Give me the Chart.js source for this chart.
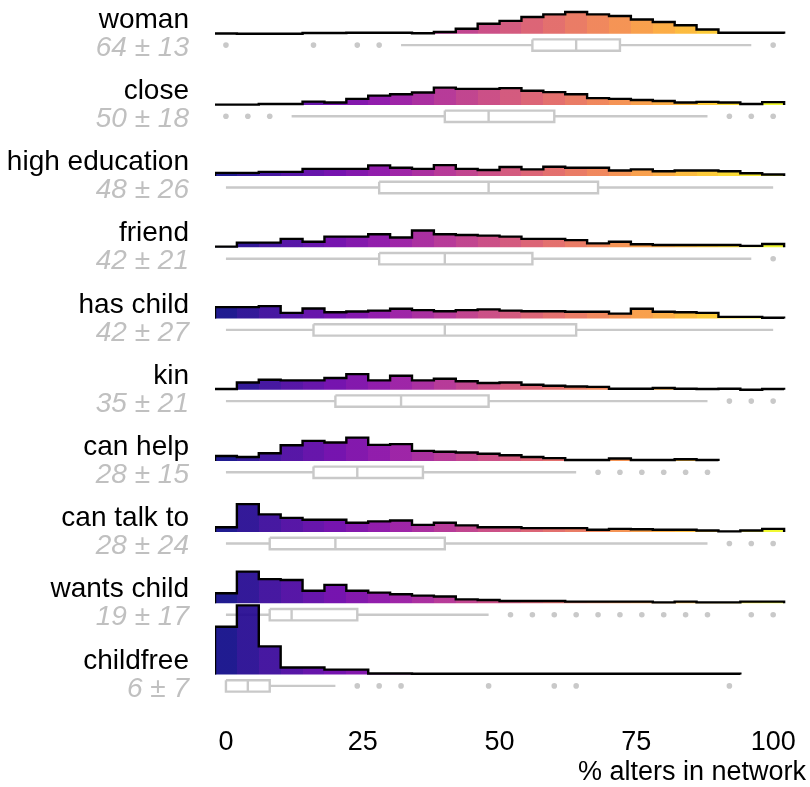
<!DOCTYPE html>
<html><head><meta charset="utf-8">
<script src="https://cdn.jsdelivr.net/npm/chart.js@4.4.1/dist/chart.umd.min.js"></script>
<style>html,body{margin:0;padding:0;background:#fff;}#wrap{width:810px;height:787px;}</style>
</head><body><div id="wrap"><canvas id="c" width="810" height="787"></canvas></div>
<script>
// ---------- DATA ----------
const categories = ["woman","close","high education","friend","has child","kin","can help","can talk to","wants child","childfree"];
const statLabels = ["64 ± 13","50 ± 18","48 ± 26","42 ± 21","42 ± 27","35 ± 21","28 ± 15","28 ± 24","19 ± 17","6 ± 7"];
const binCenters = [0,4,8,12,16,20,24,28,32,36,40,44,48,52,56,60,64,68,72,76,80,84,88,92,96,100];
const xTicks = [0,25,50,75,100];

// share of respondents (%) in each 4-point bin, starting at bin 0
const histWoman      = [0.1,0,0,0,0.3,0.3,0.4,0.4,0.4,0.2,0.7,2.1,4.3,5.5,7.2,8.3,9.3,8.3,7.6,6.1,5.0,3.6,1.8,0.4,0.4,0.4];
const histClose      = [0.1,0.1,0.4,0.4,1.4,1.0,2.6,4.0,4.6,5.3,7.4,6.9,6.9,7.2,6.1,5.5,4.6,2.9,2.6,2.1,1.7,1.0,1.3,1.0,0.4,1.2];
const histHighEdu    = [1.4,1.4,1.8,1.8,3.1,3.1,3.1,4.6,3.6,3.1,4.7,3.1,2.6,3.9,2.9,4.0,3.6,3.6,2.4,2.9,2.1,2.4,2.4,2.1,1.2,0.7];
const histFriend     = [0.3,2.0,2.0,3.6,2.4,4.6,4.6,5.6,4.2,7.2,5.6,5.3,5.0,4.6,3.6,3.6,3.1,1.7,2.4,1.3,1.0,1.0,1.0,1.0,0.6,1.4];
const histHasChild   = [4.9,4.9,5.3,2.4,4.3,2.7,3.0,3.4,4.2,3.6,3.1,3.6,3.9,3.4,3.1,3.1,2.9,2.9,2.1,4.2,2.9,2.7,2.4,0.7,0.7,0.3];
const histKin        = [0.3,3.1,4.3,4.0,4.0,5.0,6.7,4.0,6.0,4.0,4.7,3.6,2.9,3.1,2.1,1.7,1.4,1.2,0.4,0.4,0.7,0.4,0.3,0.4,0,0.3];
const histCanHelp    = [2.1,1.7,3.3,6.7,8.6,7.9,10.0,6.9,7.2,4.3,3.9,3.6,3.1,2.4,1.7,1.2,0.4,0.4,1.0,0.4,0.4,0.7,0.4];
const histCanTalk    = [2.1,12.0,7.6,6.1,5.3,5.3,4.0,4.6,5.0,3.1,4.0,2.9,2.1,2.1,1.7,1.7,1.7,1.0,1.4,1.2,1.0,1.0,0.7,0.3,0.7,1.4];
const histWantsChild = [4.3,13.6,10.4,10.0,5.4,7.9,5.4,4.6,3.9,3.3,2.9,1.7,1.4,1.0,1.0,1.0,0.7,0.7,0.7,0.7,0.4,0.7,0.4,0.4,0.7,0.7];
const histChildfree  = [20.5,29.7,12.1,3.0,3.0,2.1,2.1,0.4,0.4,0.3,0.3,0.3,0.3,0.3,0.3,0.3,0.3,0.3,0.3,0.3,0.3,0.3,0.3,0.3];

// boxplot: [lower whisker, Q1, median, Q3, upper whisker]
const boxWoman      = [32,56,64,72,96];
const boxClose      = [12,40,48,60,88];
const boxHighEdu    = [0,28,48,68,100];
const boxFriend     = [0,28,40,56,96];
const boxHasChild   = [0,16,40,64,100];
const boxKin        = [0,20,32,48,88];
const boxCanHelp    = [0,16,24,36,64];
const boxCanTalk    = [0,8,20,40,88];
const boxWantsChild = [0,8,12,24,48];
const boxChildfree  = [0,0,4,8,20];

const outWoman      = [0,16,24,28,100];
const outClose      = [0,4,8,92,96,100];
const outHighEdu    = [];
const outFriend     = [100];
const outHasChild   = [];
const outKin        = [92,96,100];
const outCanHelp    = [68,72,76,80,84,88];
const outCanTalk    = [92,96,100];
const outWantsChild = [52,56,60,64,68,72,76,80,84,88,96,100];
const outChildfree  = [24,28,32,48,60,64,92];

// ---------- BUILD ----------
const hists = [histWoman,histClose,histHighEdu,histFriend,histHasChild,histKin,histCanHelp,histCanTalk,histWantsChild,histChildfree];
const boxes = [boxWoman,boxClose,boxHighEdu,boxFriend,boxHasChild,boxKin,boxCanHelp,boxCanTalk,boxWantsChild,boxChildfree];
const outs  = [outWoman,outClose,outHighEdu,outFriend,outHasChild,outKin,outCanHelp,outCanTalk,outWantsChild,outChildfree];

const BIN_W = 4;
const PCT_SCALE = 0.0327;   // row heights per % of respondents
const BOX_OFF = 0.16;       // box centre below the ridge baseline (rows)
const BOX_HALF = 0.08;
const GREY = '#c9c9c9';
// pixel frame of the ridges: baseline of the bottom row and row spacing
const BOTTOM_BASE_PX = 674.5, ROW_PX = 71.2;

const plasmaStops = ['#0d0887','#41049d','#6a00a8','#8f0da4','#b12a90','#cc4778','#e16462','#f2844b','#fca636','#fcce25','#f0f921'];
function hexToRgb(h){return [1,3,5].map(i=>parseInt(h.substr(i,2),16));}
function plasma(t){
  t=Math.max(0,Math.min(1,t));
  const p=t*10, i=Math.min(9,Math.floor(p)), f=p-i;
  const a=hexToRgb(plasmaStops[i]), b=hexToRgb(plasmaStops[i+1]);
  const c=a.map((v,k)=>Math.round(v+(b[k]-v)*f));
  return `rgba(${c[0]},${c[1]},${c[2]},0.92)`;
}

function binGradient(ctx){
  const chart=ctx.chart;
  if(!chart.chartArea) return '#888';
  const xs=chart.scales.x;
  const x0=xs.getPixelForValue(binCenters[0]-BIN_W/2);
  const x1=xs.getPixelForValue(binCenters[binCenters.length-1]+BIN_W/2);
  const g=chart.ctx.createLinearGradient(x0,0,x1,0);
  const span=(binCenters.length)*BIN_W;
  binCenters.forEach((c,i)=>{
    const col=plasma(c/100);
    const a=(i*BIN_W)/span, b=((i+1)*BIN_W)/span;
    g.addColorStop(Math.min(1,a+0.0001),col);
    g.addColorStop(Math.max(0,b-0.0001),col);
  });
  return g;
}

const datasets=[]; // in drawing order (first drawn first)
categories.forEach((cat,r)=>{
  const base=categories.length-1-r;
  const h=hists[r];
  const pts=[];
  pts.push({x:binCenters[0]-BIN_W/2,y:base});
  h.forEach((v,i)=>{
    const c=binCenters[i];
    pts.push({x:c-BIN_W/2,y:base+v*PCT_SCALE});
    pts.push({x:c+BIN_W/2,y:base+v*PCT_SCALE});
  });
  pts.push({x:binCenters[h.length-1]+BIN_W/2,y:base});
  datasets.push({label:cat,data:pts,showLine:true,borderColor:'#000',borderWidth:2.4,pointRadius:0,
    tension:0,fill:{value:base},backgroundColor:binGradient,borderJoinStyle:'miter',borderCapStyle:'butt'});
  const b=boxes[r], yc=base-BOX_OFF, yt=yc+BOX_HALF, yb=yc-BOX_HALF;
  const lineDs=(d)=>({data:d,showLine:true,borderColor:GREY,borderWidth:2.4,pointRadius:0,fill:false,tension:0});
  datasets.push(lineDs([{x:b[0],y:yc},{x:b[1],y:yc}]));
  datasets.push(lineDs([{x:b[3],y:yc},{x:b[4],y:yc}]));
  datasets.push(Object.assign(lineDs([{x:b[1],y:yt},{x:b[3],y:yt},{x:b[3],y:yb},{x:b[1],y:yb},{x:b[1],y:yt}]),{fill:'shape',backgroundColor:'#fff',borderJoinStyle:'miter'}));
  datasets.push(lineDs([{x:b[2],y:yt},{x:b[2],y:yb}]));
  datasets.push({data:outs[r].map(v=>({x:v,y:yc})),showLine:false,pointRadius:2.8,pointBorderWidth:0,
    pointBackgroundColor:GREY,pointBorderColor:GREY});
});
datasets.reverse(); // Chart.js draws index 0 last (on top)

// keep the ridge rows on a fixed pixel grid whatever height the x axis takes
const rowFrame={
  id:'rowFrame',
  afterLayout(chart){
    const ys=chart.scales.y, a=chart.chartArea;
    ys.options.min=(BOTTOM_BASE_PX-a.bottom)/ROW_PX;
    ys.options.max=(BOTTOM_BASE_PX-a.top)/ROW_PX;
    ys.min=ys.options.min; ys.max=ys.options.max;
    ys.configure();
  }
};

const labelPlugin={
  id:'rowLabels',
  afterDatasetsDraw(chart){
    const ctx=chart.ctx, ys=chart.scales.y;
    ctx.save();
    ctx.textAlign='right';
    ctx.textBaseline='alphabetic';
    categories.forEach((cat,r)=>{
      const py=ys.getPixelForValue(categories.length-1-r);
      ctx.fillStyle='#000';
      ctx.font="28px 'Liberation Sans', Arial, sans-serif";
      ctx.fillText(cat,189,py-6);
      ctx.fillStyle='#c0c0c0';
      ctx.font="italic 28px 'Liberation Sans', Arial, sans-serif";
      ctx.fillText(statLabels[r],189,py+22);
    });
    ctx.restore();
  }
};

Chart.defaults.font.family="'Liberation Sans', Arial, sans-serif";
new Chart(document.getElementById('c'),{
  type:'scatter',
  data:{datasets},
  options:{
    responsive:false,animation:false,devicePixelRatio:1,
    layout:{padding:{left:215,right:3,top:0,bottom:0}},
    plugins:{legend:{display:false},tooltip:{enabled:false}},
    scales:{
      x:{type:'linear',min:-2,max:106,
        grid:{display:false},border:{display:false},
        afterBuildTicks:(s)=>{s.ticks=xTicks.map(v=>({value:v}));},
        ticks:{color:'#000',font:{size:27,lineHeight:0.45},padding:8,maxRotation:0,autoSkip:false},
        title:{display:true,text:'% alters in network',align:'end',color:'#000',font:{size:27,lineHeight:1.05},padding:{top:2,bottom:0}}},
      y:{type:'linear',min:-0.6,max:9.5,display:false}
    }
  },
  plugins:[rowFrame,labelPlugin]
});
</script></body></html>
